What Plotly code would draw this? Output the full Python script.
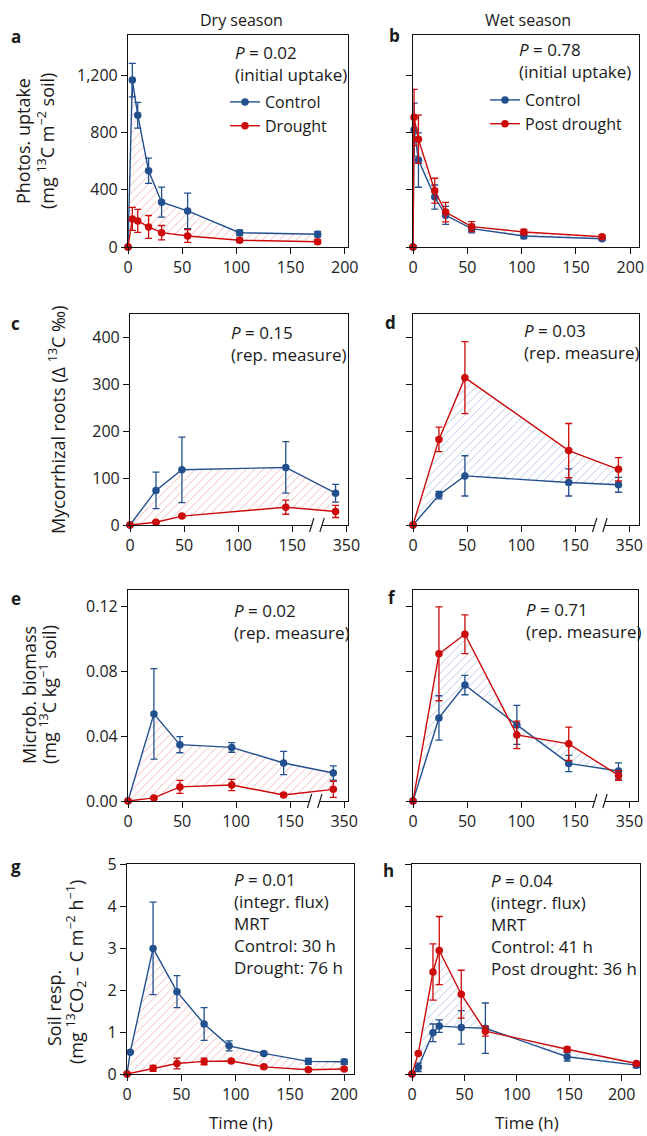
import plotly.graph_objects as go

W, H = 647, 1136
BLUE = '#22508e'
RED = '#cc0a0a'
PINK = '#f0b0b4'
LBLUE = '#b0c2e2'
FONT = 'Open Sans'
FS = 16      # tick labels
FA = 17      # in-panel annotations
FT = 18      # y-axis titles

# ---------------- data ----------------
# a: photosynthetic uptake, dry season
a_t = [0, 4, 9, 19, 31, 55, 103, 175]
a_ctrl = [0, 1165, 920, 532, 313, 252, 100, 89]
a_ctrl_err = [0, 117, 90, 88, 105, 124, 20, 20]
a_dr = [0, 196, 182, 140, 100, 77, 47, 37]
a_dr_err = [0, 80, 80, 80, 50, 45, 15, 15]

# b: photosynthetic uptake, wet season
b_t = [0, 1, 5, 20, 30, 54, 102, 174]
b_ctrl = [0, 819, 607, 349, 221, 128, 77, 58]
b_ctrl_err = [0, 185, 190, 84, 63, 30, 18, 12]
b_pd = [0, 905, 752, 393, 244, 142, 105, 72]
b_pd_err = [0, 195, 168, 87, 68, 35, 18, 12]

# c/d: mycorrhizal roots
cd_t = [0, 24, 48, 144, 336]
c_ctrl = [0, 74, 118, 123, 68]
c_ctrl_err = [0, 39, 70, 55, 19]
c_dr = [0, 6, 19, 38, 29]
c_dr_err = [0, 2, 3, 15, 13]
d_ctrl = [0, 64, 105, 91, 86]
d_ctrl_err = [0, 8, 43, 29, 16]
d_pd = [0, 183, 315, 159, 119]
d_pd_err = [0, 26, 77, 58, 25]

# e/f: microbial biomass
ef_t = [0, 24, 48, 96, 144, 336]
e_ctrl = [0, 0.0538, 0.0348, 0.0331, 0.0235, 0.0173]
e_ctrl_err = [0, 0.028, 0.005, 0.003, 0.0072, 0.0044]
e_dr = [0, 0.0019, 0.0087, 0.0099, 0.0037, 0.0072]
e_dr_err = [0, 0.0005, 0.004, 0.0035, 0.001, 0.005]
f_ctrl = [0, 0.0513, 0.0716, 0.047, 0.0232, 0.0185]
f_ctrl_err = [0, 0.0137, 0.006, 0.012, 0.005, 0.005]
f_pd = [0, 0.0909, 0.103, 0.0408, 0.0353, 0.0158]
f_pd_err = [0, 0.029, 0.012, 0.0085, 0.0103, 0.003]

# g: soil respiration, dry season
g_t_ctrl = [0, 3, 24, 46, 71, 94, 126, 167, 200]
g_ctrl = [0, 0.52, 2.99, 1.96, 1.19, 0.67, 0.49, 0.30, 0.29]
g_ctrl_err = [0, 0.03, 1.1, 0.38, 0.39, 0.12, 0.04, 0.07, 0.06]
g_t_dr = [0, 24, 46, 71, 96, 126, 167, 200]
g_dr = [0, 0.135, 0.25, 0.30, 0.31, 0.17, 0.10, 0.12]
g_dr_err = [0, 0.07, 0.13, 0.08, 0.04, 0.04, 0.03, 0.03]

# h: soil respiration, wet season
h_t = [0, 6, 20, 26, 47, 70, 148, 214]
h_ctrl = [0, 0.16, 0.98, 1.14, 1.11, 1.09, 0.41, 0.21]
h_ctrl_err = [0, 0.1, 0.21, 0.15, 0.4, 0.6, 0.1, 0.06]
h_pd = [0, 0.49, 2.43, 2.94, 1.9, 1.02, 0.59, 0.25]
h_pd_err = [0, 0.03, 0.67, 0.81, 0.57, 0.12, 0.05, 0.04]

time_ticks = [0, 50, 100, 150, 200]
time_ticks_break = ['0', '50', '100', '150', '350']
a_yticks = [0, 400, 800, 1200]
a_yticklabels = ['0', '400', '800', '1,200']
c_yticks = [0, 100, 200, 300, 400]
e_yticks = [0, 0.04, 0.08, 0.12]
e_yticklabels = ['0.00', '0.04', '0.08', '0.12']
g_yticks = [0, 1, 2, 3, 4, 5]


def brk(ts):
    # broken time axis: values beyond the break are compressed so 350 h sits at 200
    return [t if t <= 175 else 200 - (350 - t) * 10 / 14 for t in ts]


fig = go.Figure()


def xdom(l, r):
    return [l / W, r / W]


def ydom(t, b):
    return [1 - b / H, 1 - t / H]


panels = {
    1: dict(x=(128, 348), y=(35, 247), xr=[0, 203], yr=[0, 1480], yt=a_yticks, ytl=a_yticklabels, xt=time_ticks, xtl=None, lab=True),
    2: dict(x=(413, 639), y=(35, 247), xr=[0, 208], yr=[0, 1480], yt=a_yticks, ytl=a_yticklabels, xt=time_ticks, xtl=None, lab=False),
    3: dict(x=(130, 348), y=(314, 525), xr=[0, 201.5], yr=[0, 451], yt=c_yticks, ytl=None, xt=time_ticks, xtl=time_ticks_break, lab=True),
    4: dict(x=(413, 639), y=(314, 525), xr=[0, 209], yr=[0, 451], yt=c_yticks, ytl=None, xt=time_ticks, xtl=time_ticks_break, lab=False),
    5: dict(x=(128, 348), y=(590, 801), xr=[0, 203.6], yr=[0, 0.1303], yt=e_yticks, ytl=e_yticklabels, xt=time_ticks, xtl=time_ticks_break, lab=True),
    6: dict(x=(413, 638), y=(590, 801), xr=[0, 208], yr=[0, 0.1303], yt=e_yticks, ytl=e_yticklabels, xt=time_ticks, xtl=time_ticks_break, lab=False),
    7: dict(x=(127, 354), y=(864, 1074), xr=[0, 209], yr=[0, 5], yt=g_yticks, ytl=None, xt=time_ticks, xtl=None, lab=True),
    8: dict(x=(412, 640), y=(864, 1074), xr=[0, 217.5], yr=[0, 5], yt=g_yticks, ytl=None, xt=time_ticks, xtl=None, lab=False),
}

layout_axes = {}
for i, p in panels.items():
    sx = '' if i == 1 else str(i)
    common = dict(showline=True, mirror=True, linecolor='#111', linewidth=1.1,
                  ticks='outside', ticklen=6, tickwidth=1.1, tickcolor='#111',
                  showgrid=False, zeroline=False, automargin=False,
                  tickfont=dict(family=FONT, size=FS, color='#222'))
    xa = dict(common, domain=xdom(*p['x']), range=p['xr'], anchor='y' + sx,
              tickmode='array', tickvals=p['xt'])
    if p['xtl']:
        xa['ticktext'] = p['xtl']
    ya = dict(common, domain=ydom(*p['y']), range=p['yr'], anchor='x' + sx,
              tickmode='array', tickvals=p['yt'], showticklabels=p['lab'])
    if p['ytl']:
        ya['ticktext'] = p['ytl']
    layout_axes['xaxis' + sx] = xa
    layout_axes['yaxis' + sx] = ya


def add_pair(i, tc, yc, ec, td, yd, ed, hatch, names=None, legend=None):
    sx = '' if i == 1 else str(i)
    xa, ya = 'x' + sx, 'y' + sx
    fig.add_trace(go.Scatter(
        x=list(tc) + list(td)[::-1], y=list(yc) + list(yd)[::-1],
        mode='none', fill='toself', fillcolor='rgba(0,0,0,0)',
        fillpattern=dict(shape='/', fgcolor=hatch, bgcolor='rgba(0,0,0,0)', size=6, solidity=0.15),
        xaxis=xa, yaxis=ya, showlegend=False, hoverinfo='skip'))
    for t, y, e, col, k in [(tc, yc, ec, BLUE, 0), (td, yd, ed, RED, 1)]:
        fig.add_trace(go.Scatter(
            x=t, y=y, mode='lines+markers',
            line=dict(color=col, width=1.4),
            marker=dict(color=col, size=7.5),
            error_y=dict(type='data', array=e, color=col, thickness=1.3, width=3.5),
            cliponaxis=False, xaxis=xa, yaxis=ya,
            name=names[k] if names else None,
            showlegend=names is not None, legend=legend))


add_pair(1, a_t, a_ctrl, a_ctrl_err, a_t, a_dr, a_dr_err, PINK, ['Control', 'Drought'], 'legend')
add_pair(2, b_t, b_ctrl, b_ctrl_err, b_t, b_pd, b_pd_err, LBLUE, ['Control', 'Post drought'], 'legend2')
add_pair(3, brk(cd_t), c_ctrl, c_ctrl_err, brk(cd_t), c_dr, c_dr_err, PINK)
add_pair(4, brk(cd_t), d_ctrl, d_ctrl_err, brk(cd_t), d_pd, d_pd_err, LBLUE)
add_pair(5, brk(ef_t), e_ctrl, e_ctrl_err, brk(ef_t), e_dr, e_dr_err, PINK)
add_pair(6, brk(ef_t), f_ctrl, f_ctrl_err, brk(ef_t), f_pd, f_pd_err, LBLUE)
add_pair(7, g_t_ctrl, g_ctrl, g_ctrl_err, g_t_dr, g_dr, g_dr_err, PINK)
add_pair(8, h_t, h_ctrl, h_ctrl_err, h_t, h_pd, h_pd_err, LBLUE)

# axis break marks
shapes = []
for i in [3, 4, 5, 6]:
    sx = str(i)
    shapes.append(dict(type='line', xref='x' + sx, yref='y' + sx + ' domain',
                       x0=168.5, x1=177.5, y0=0, y1=0, line=dict(color='white', width=3), layer='above'))
    for xc in [168, 177.5]:
        shapes.append(dict(type='line', xref='x' + sx, yref='y' + sx + ' domain',
                           x0=xc - 2, x1=xc + 2, y0=-0.033, y1=0.033,
                           line=dict(color='#111', width=1.1), layer='above'))

ann = []


def txt(s, x, y, xa='left', ya='middle', size=FA, angle=0, bold=False):
    ann.append(dict(text=('<b>%s</b>' % s) if bold else s, x=x / W, y=1 - y / H,
                    xref='paper', yref='paper', xanchor=xa, yanchor=ya, align='left',
                    showarrow=False, textangle=angle,
                    font=dict(family=FONT, size=size, color='#1a1a1a')))


txt('Dry season', 241, 20, 'center', size=16)
txt('Wet season', 528, 20, 'center', size=16)
for s, x, y in [('a', 16, 37), ('b', 394, 35), ('c', 15, 323), ('d', 390, 322),
                ('e', 16, 598), ('f', 392, 597), ('g', 16, 866), ('h', 388, 870)]:
    txt(s, x, y, 'center', size=17, bold=True)

txt('<i>P</i> = 0.02<br>(initial uptake)', 233, 63.5)
txt('<i>P</i> = 0.78<br>(initial uptake)', 517, 60)
txt('<i>P</i> = 0.15<br>(rep. measure)', 229, 343)
txt('<i>P</i> = 0.03<br>(rep. measure)', 522, 341.5)
txt('<i>P</i> = 0.02<br>(rep. measure)', 232, 621.5)
txt('<i>P</i> = 0.71<br>(rep. measure)', 524, 620.5)
txt('<i>P</i> = 0.01<br>(integr. flux)', 232, 890)
txt('MRT<br>Control: 30 h<br>Drought: 76 h', 232, 945)
txt('<i>P</i> = 0.04<br>(integr. flux)', 489, 891)
txt('MRT<br>Control: 41 h<br>Post drought: 36 h', 489, 946.5)

txt('Photos. uptake', 23, 141, 'center', size=FT, angle=-90)
txt('(mg <sup>13</sup>C m<sup>−2</sup> soil)', 46, 141, 'center', size=FT, angle=-90)
txt('Mycorrhizal roots (Δ <sup>13</sup>C ‰)', 57, 420, 'center', size=FT, angle=-90)
txt('Microb. biomass', 29, 695, 'center', size=FT, angle=-90)
txt('(mg <sup>13</sup>C kg<sup>−1</sup> soil)', 48, 695, 'center', size=FT, angle=-90)
txt('Soil resp.', 54, 1008, 'center', size=FT, angle=-90)
txt('(mg <sup>13</sup>CO<sub>2</sub> – C m<sup>−2</sup> h<sup>−1</sup>)', 76, 972, 'center', size=FT, angle=-90)
txt('Time (h)', 241, 1122, 'center')
txt('Time (h)', 527, 1122, 'center')

leg_common = dict(bgcolor='rgba(0,0,0,0)', borderwidth=0, xanchor='left', yanchor='top',
                  font=dict(family=FONT, size=16, color='#1a1a1a'), tracegroupgap=0,
                  itemwidth=30)

fig.update_layout(
    template='none',
    width=W, height=H, margin=dict(l=0, r=0, t=0, b=0, autoexpand=False),
    paper_bgcolor='white', plot_bgcolor='white',
    font=dict(family=FONT, size=FS),
    shapes=shapes, annotations=ann,
    legend=dict(leg_common, x=225 / W, y=1 - 85 / H),
    legend2=dict(leg_common, x=485 / W, y=1 - 83 / H),
    **layout_axes)

fig.write_html('out.html', config={'displayModeBar': False},
               post_script="document.body.style.margin='0';document.body.style.padding='0';")
